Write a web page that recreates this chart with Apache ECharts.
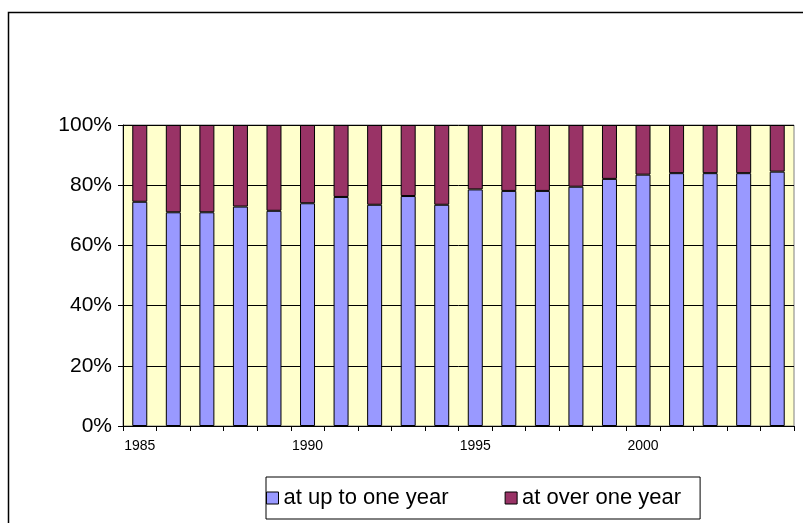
<!DOCTYPE html>
<html>
<head>
<meta charset="utf-8">
<script src="https://cdn.jsdelivr.net/npm/echarts@6/dist/echarts.min.js"></script>
<style>
html,body{margin:0;padding:0;background:#fff;}
#chart{width:803px;height:523px;}
</style>
</head>
<body>
<div id="chart"></div>
<script>
var years = ['1985','1986','1987','1988','1989','1990','1991','1992','1993','1994','1995','1996','1997','1998','1999','2000','2001','2002','2003','2004'];
var upToOneYear = [74.5, 71.0, 71.0, 72.9, 71.5, 74.0, 76.1, 73.5, 76.4, 73.5, 78.6, 78.1, 78.1, 79.5, 82.1, 83.5, 84.0, 84.0, 84.0, 84.5];
var overOneYear = [25.5, 29.0, 29.0, 27.1, 28.5, 26.0, 23.9, 26.5, 23.6, 26.5, 21.4, 21.9, 21.9, 20.5, 17.9, 16.5, 16.0, 16.0, 16.0, 15.5];
var seriesNames = ['at up to one year', 'at over one year'];

var FONT = 'Liberation Sans, Arial, sans-serif';
var chart = echarts.init(document.getElementById('chart'), null, {renderer: 'canvas'});
chart.setOption({
  animation: false,
  backgroundColor: '#ffffff',
  graphic: [{
    type: 'rect',
    shape: {x: 8.5, y: 12.5, width: 900, height: 600},
    style: {fill: 'none', stroke: '#000', lineWidth: 1.5},
    silent: true
  }],
  grid: {
    left: 123, right: 9, top: 125, bottom: 97,
    show: true, backgroundColor: '#FFFFCC', borderColor: '#808080', borderWidth: 1
  },
  legend: {
    data: seriesNames,
    left: 266, top: 477,
    padding: [10, 19, 10, 0],
    borderColor: '#000', borderWidth: 1,
    itemWidth: 12, itemHeight: 12, itemGap: 56,
    icon: 'rect',
    itemStyle: {borderColor: '#000', borderWidth: 1},
    textStyle: {fontFamily: FONT, fontSize: 22, color: '#000'}
  },
  xAxis: {
    type: 'category',
    data: years,
    axisLine: {lineStyle: {color: '#000', width: 1}},
    axisTick: {show: true, interval: 0, length: 5, lineStyle: {color: '#000'}},
    axisLabel: {interval: 4, margin: 13, fontFamily: FONT, fontSize: 14, color: '#000'},
    splitLine: {show: false}
  },
  yAxis: {
    type: 'value',
    min: 0, max: 100, interval: 20,
    axisLine: {show: true, lineStyle: {color: '#000', width: 1}},
    axisTick: {show: true, length: 5, lineStyle: {color: '#000'}},
    axisLabel: {formatter: '{value}%', margin: 11, fontFamily: FONT, fontSize: 21, color: '#000'},
    splitLine: {show: true, lineStyle: {color: '#000', width: 1}}
  },
  series: [{
    name: seriesNames[0],
    type: 'bar',
    stack: 'total',
    barWidth: 15,
    data: upToOneYear,
    itemStyle: {color: '#9999FF', borderColor: '#000', borderWidth: 1}
  }, {
    name: seriesNames[1],
    type: 'bar',
    stack: 'total',
    barWidth: 15,
    data: overOneYear,
    itemStyle: {color: '#993366', borderColor: '#000', borderWidth: 1}
  }]
});
</script>
</body>
</html>
